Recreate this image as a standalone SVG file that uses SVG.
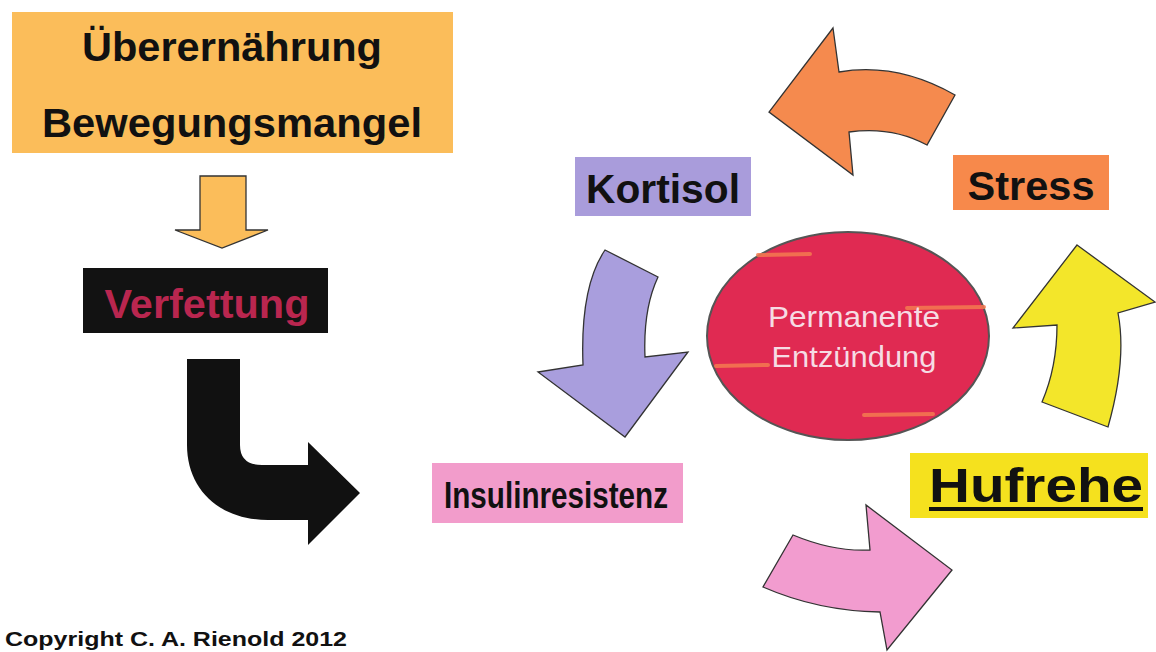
<svg xmlns="http://www.w3.org/2000/svg" width="1156" height="652" viewBox="0 0 1156 652">
  <style>
    .lbl { font-family: "Liberation Sans", Arial, sans-serif; font-weight: bold; fill: #111; }
    .arr { stroke: #333; stroke-width: 1.3; stroke-linejoin: miter; }
    .streak { stroke: #F47A50; stroke-width: 4; stroke-linecap: round; opacity: 0.85; }
    .inner { font-family: "Liberation Sans", Arial, sans-serif; fill: #F6DCE4; font-size: 30px; }
  </style>
  <rect width="1156" height="652" fill="#FFFFFF"/>

  <g id="node-ueberernaehrung">
    <rect x="12" y="12" width="441" height="141" fill="#FBBD5A"/>
    <text class="lbl" x="232" y="61" font-size="40" text-anchor="middle" textLength="300" lengthAdjust="spacingAndGlyphs">Überernährung</text>
    <text class="lbl" x="232" y="137" font-size="40" text-anchor="middle" textLength="380" lengthAdjust="spacingAndGlyphs">Bewegungsmangel</text>
  </g>

  <g id="node-verfettung">
    <rect x="83" y="268" width="245" height="65" fill="#121212"/>
    <text x="207" y="318" font-family="Liberation Sans, Arial, sans-serif" font-weight="bold" font-size="40" fill="#B9264F" text-anchor="middle" textLength="205" lengthAdjust="spacingAndGlyphs">Verfettung</text>
  </g>

  <g id="node-insulinresistenz">
    <rect x="432" y="463" width="251" height="60" fill="#F29CCB"/>
    <text class="lbl" x="556" y="508" font-size="36" text-anchor="middle" textLength="224" lengthAdjust="spacingAndGlyphs">Insulinresistenz</text>
  </g>

  <g id="node-kortisol">
    <rect x="575" y="157" width="176" height="59" fill="#A99CDB"/>
    <text class="lbl" x="663" y="203" font-size="40" text-anchor="middle" textLength="154" lengthAdjust="spacingAndGlyphs">Kortisol</text>
  </g>

  <g id="node-stress">
    <rect x="953" y="155" width="156" height="55" fill="#F7894B"/>
    <text class="lbl" x="1031" y="200" font-size="40" text-anchor="middle" textLength="127" lengthAdjust="spacingAndGlyphs">Stress</text>
  </g>

  <g id="node-hufrehe">
    <rect x="910" y="453" width="238" height="65" fill="#F5E11E"/>
    <text class="lbl" x="1036" y="502" font-size="48" text-anchor="middle" textLength="214" lengthAdjust="spacingAndGlyphs">Hufrehe</text>
    <rect x="929" y="507" width="214" height="4" fill="#111"/>
  </g>

  <g id="node-entzuendung">
    <ellipse cx="848" cy="336" rx="141" ry="104" fill="#E02A52" stroke="#555" stroke-width="2"/>
    <line class="streak" x1="758" y1="255" x2="810" y2="254"/>
    <line class="streak" x1="907" y1="308" x2="984" y2="307"/>
    <line class="streak" x1="716" y1="366" x2="768" y2="365"/>
    <line class="streak" x1="864" y1="415" x2="933" y2="414"/>
    <text class="inner" x="854" y="327" text-anchor="middle" textLength="172" lengthAdjust="spacingAndGlyphs">Permanente</text>
    <text class="inner" x="854" y="367" text-anchor="middle" textLength="165" lengthAdjust="spacingAndGlyphs">Entzündung</text>
  </g>

  <g id="connectors">
    <path class="arr" d="M200,176 H246 V230 H268 L222,248 L175,230 H200 Z" fill="#FBBD5A" stroke-width="1"/>
    <path d="M187,359 H240 V445 Q240,465 262,465 H308 V442 L360,493 L308,545 V520 H268 C218,520 187,488 187,445 Z" fill="#111"/>
    <path class="arr" d="M793,535 Q834,552 870,550 L866,505 L952,570 L887,650 L880,612 Q818,611 763,587 Z" fill="#F29CCF"/>
    <path class="arr" d="M1077,245 L1155,302 L1118,313 Q1127,360 1108,427 L1042,402 Q1057,367 1057,325 L1013,328 Z" fill="#F3E62A"/>
    <path class="arr" d="M833,28 L839,72 Q897,62 955,95 L927,145 Q892,126 849,132 L853,175 L769,112 Z" fill="#F58A4E"/>
    <path class="arr" d="M605,250 L658,277 Q643,309 645,357 L688,352 L625,437 L538,372 L583,365 Q580,287 605,250 Z" fill="#A99EDD"/>
  </g>

  <text x="5" y="646" font-family="Liberation Sans, Arial, sans-serif" font-weight="bold" font-size="20" fill="#111" textLength="342" lengthAdjust="spacingAndGlyphs">Copyright C. A. Rienold 2012</text>
</svg>
